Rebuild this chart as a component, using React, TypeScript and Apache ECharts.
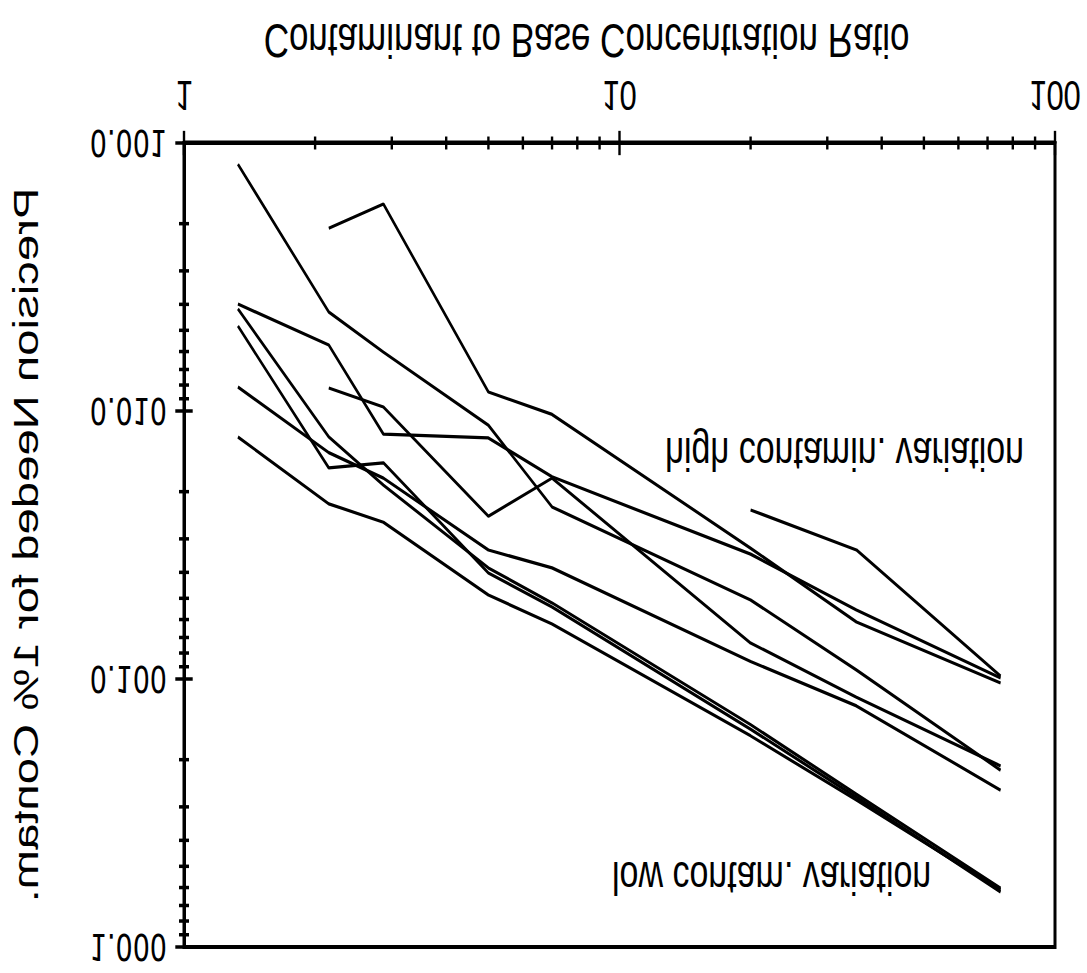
import React, { useEffect, useRef } from "react";
import * as echarts from "echarts";

// Contaminant to base concentration ratio (x) at which each curve has a vertex
const ratios = [1.33, 2.15, 2.87, 5, 7, 20, 35, 75];

// Precision needed for 1% contamination (y), one array per curve (null = no point)
const seriesA = [0.0012, 0.00427, 0.00603, 0.0113, 0.0228, 0.0507, 0.0926, 0.219];
const seriesB = [null, 0.00208, 0.00169, 0.00849, 0.0103, 0.0325, 0.0613, 0.1035];
const seriesC = [0.00399, 0.00567, 0.0122, 0.0126, 0.0176, 0.0342, 0.0553, 0.0992];
const seriesD = [null, 0.00821, 0.00966, 0.0247, 0.0178, 0.0734, 0.117, 0.211];
const seriesE = [0.00814, 0.0143, 0.0178, 0.033, 0.0385, 0.086, 0.126, 0.26];
const seriesF = [0.0125, 0.0222, 0.026, 0.0486, 0.0623, 0.163, 0.283, 0.613];
const seriesG = [0.00416, 0.0125, 0.0189, 0.0385, 0.052, 0.148, 0.269, 0.603];
const seriesH = [0.00482, 0.0163, 0.0156, 0.0402, 0.0539, 0.154, 0.276, 0.623];
const seriesK = [null, null, null, null, null, 0.0234, 0.033, 0.0975];

const allSeries = [seriesA, seriesB, seriesC, seriesD, seriesE, seriesF, seriesG, seriesH, seriesK];

// Axis ranges and tick values
const X_MIN = 1;
const X_MAX = 100;
const Y_MIN = 0.001;
const Y_MAX = 1;
const xMajorTicks = [1, 10, 100];
const xMinorTicks = [2, 3, 4, 5, 6, 7, 8, 9, 20, 30, 40, 50, 60, 70, 80, 90];
const yMajorTicks = [0.001, 0.01, 0.1, 1];
const yMinorTicks = [
  0.002, 0.003, 0.004, 0.005, 0.006, 0.007, 0.008, 0.009,
  0.02, 0.03, 0.04, 0.05, 0.06, 0.07, 0.08, 0.09,
  0.2, 0.3, 0.4, 0.5, 0.6, 0.7, 0.8, 0.9,
];

const xTitle = "Contaminant to Base Concentration Ratio";
const yTitle = "Precision Needed for 1% Contam.";
const noteHigh = "high contamin. variation";
const noteLow = "low contam. variation";

export default function App() {
  const ref = useRef<HTMLDivElement | null>(null);

  useEffect(() => {
    if (!ref.current) return;
    const chart = echarts.init(ref.current, undefined, { renderer: "svg" });

    const lineSeries = allSeries.map((vals, i) => ({
      type: "line",
      name: "curve" + (i + 1),
      data: ratios
        .map((x, j) => [x, vals[j]])
        .filter((d) => d[1] !== null && d[1] !== undefined),
      showSymbol: false,
      symbol: "none",
      silent: true,
      z: 3,
      lineStyle: { color: "#000", width: 2.4 },
    }));

    const xTickSeries = {
      type: "custom",
      coordinateSystem: "cartesian2d",
      silent: true,
      clip: false,
      z: 10,
      data: xMajorTicks
        .map((v) => [v, Y_MIN, 1])
        .concat(xMinorTicks.map((v) => [v, Y_MIN, 0])),
      renderItem: (_params: any, api: any) => {
        const p = api.coord([api.value(0), api.value(1)]);
        const h = api.value(2) ? 9 : 4.8;
        return {
          type: "line",
          shape: { x1: p[0], y1: p[1] - h, x2: p[0], y2: p[1] + h },
          style: { stroke: "#000", lineWidth: 2.4 },
        };
      },
    };

    const yTickSeries = {
      type: "custom",
      coordinateSystem: "cartesian2d",
      silent: true,
      clip: false,
      z: 10,
      data: yMajorTicks
        .map((v) => [X_MIN, v, 1])
        .concat(yMinorTicks.map((v) => [X_MIN, v, 0])),
      renderItem: (_params: any, api: any) => {
        const p = api.coord([api.value(0), api.value(1)]);
        const h = api.value(2) ? 8.7 : 5;
        return {
          type: "line",
          shape: { x1: p[0] - h, y1: p[1], x2: p[0] + h, y2: p[1] },
          style: { stroke: "#000", lineWidth: 2.6 },
        };
      },
    };

    chart.setOption({
      animation: false,
      backgroundColor: "#fff",
      grid: {
        left: 181,
        right: 32,
        top: 19.24,
        bottom: 105.82,
        show: true,
        borderColor: "#000",
        borderWidth: 3,
        backgroundColor: "transparent",
      },
      xAxis: {
        type: "log",
        logBase: 10,
        min: X_MIN,
        max: X_MAX,
        position: "bottom",
        axisLine: { show: true, onZero: false, lineStyle: { color: "#000", width: 3 } },
        axisTick: { show: false },
        minorTick: { show: false },
        splitLine: { show: false },
        axisLabel: {
          color: "#000",
          fontSize: 31,
          fontFamily: "Liberation Sans",
          margin: 20,
          showMinLabel: true,
          showMaxLabel: true,
          formatter: (v: number) => String(Math.round(v)),
        },
        name: xTitle,
        nameLocation: "middle",
        nameGap: 58,
        nameTextStyle: {
          color: "#000",
          fontSize: 35,
          fontFamily: "Liberation Sans",
          padding: [0, 66, 0, 0],
        },
      },
      yAxis: {
        type: "log",
        logBase: 10,
        min: Y_MIN,
        max: Y_MAX,
        axisLine: { show: true, onZero: false, lineStyle: { color: "#000", width: 3 } },
        axisTick: { show: false },
        minorTick: { show: false },
        splitLine: { show: false },
        axisLabel: {
          color: "#000",
          fontSize: 27,
          fontFamily: "DejaVu Sans",
          margin: 17,
          showMinLabel: true,
          showMaxLabel: true,
          formatter: (v: number) => v.toFixed(3),
        },
        name: yTitle,
        nameLocation: "middle",
        nameGap: 141,
        nameTextStyle: {
          color: "#000",
          fontSize: 35,
          fontFamily: "Liberation Sans",
        },
      },
      graphic: [
        {
          type: "text",
          x: 665,
          y: 384,
          silent: true,
          style: {
            text: noteHigh,
            fontSize: 34,
            fontFamily: "Liberation Sans",
            fill: "#000",
            align: "left",
            verticalAlign: "middle",
          },
        },
        {
          type: "text",
          x: 612,
          y: 70.3,
          silent: true,
          style: {
            text: noteLow,
            fontSize: 34,
            fontFamily: "Liberation Sans",
            fill: "#000",
            align: "left",
            verticalAlign: "middle",
          },
        },
      ],
      series: [...lineSeries, xTickSeries, yTickSeries],
    });

    return () => {
      chart.dispose();
    };
  }, []);

  return (
    <div
      style={{
        position: "absolute",
        left: 0,
        top: 0,
        width: 1087,
        height: 973,
        overflow: "hidden",
        background: "#fff",
      }}
    >
      <div
        ref={ref}
        style={{
          position: "absolute",
          left: 0,
          top: 0,
          width: 1087,
          height: 720,
          transformOrigin: "0 0",
          transform: "translate(0px, 973px) scale(1, -1.35139)",
        }}
      />
    </div>
  );
}
